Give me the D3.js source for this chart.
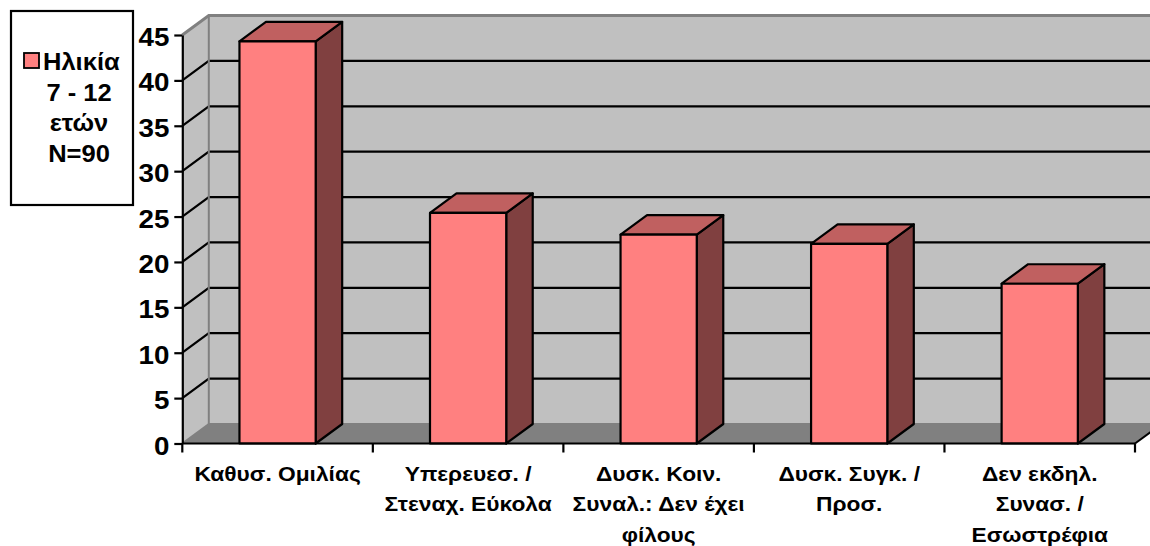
<!DOCTYPE html>
<html>
<head>
<meta charset="utf-8">
<script src="https://cdn.jsdelivr.net/npm/d3@7"></script>
<style>
  html, body { margin: 0; padding: 0; background: #fff; }
  svg { display: block; }
  text { font-family: "Liberation Sans", Arial, sans-serif; font-weight: bold; fill: #000; }
</style>
</head>
<body>
<script>
// Category labels (line breaks as they wrap under the axis)
const categories = [
  "Καθυσ. Ομιλίας",
  "Υπερευεσ. /\nΣτεναχ. Εύκολα",
  "Δυσκ. Κοιν.\nΣυναλ.: Δεν έχει\nφίλους",
  "Δυσκ. Συγκ. /\nΠροσ.",
  "Δεν εκδηλ.\nΣυνασ. /\nΕσωστρέφια"
];
// Percentages for the age group 7 - 12
const values = [44.3, 25.4, 23.0, 22.0, 17.6];
const yTicks = [0, 5, 10, 15, 20, 25, 30, 35, 40, 45];
const legendLines = ["Ηλικία", "7 - 12", "ετών", "N=90"];

const W = 1150, H = 546;
const DX = 26.5, DY = -19.5;   // 3-D depth offset
const SX = 1.11;               // horizontal text stretch

const svg = d3.select("body").append("svg").attr("width", W).attr("height", H);

const x = d3.scaleBand().domain(categories).range([182.3, 1135]).paddingInner(0).paddingOuter(0);
const y = d3.scaleLinear().domain([0, 45]).range([443.5, 35]);

const x0 = x.range()[0], x1 = x.range()[1];
const yTop = y(45), yBot = y(0);

const colFront = "#ff8080", colTop = "#c06060", colSide = "#804040";

// walls and floor
svg.append("rect").attr("x", x0 + DX).attr("y", yTop + DY)
  .attr("width", x1 - x0 + 10).attr("height", yBot - yTop).attr("fill", "#c0c0c0");
svg.append("path").attr("fill", "#c0c0c0")
  .attr("d", `M${x0},${yBot}L${x0},${yTop}L${x0 + DX},${yTop + DY}L${x0 + DX},${yBot + DY}Z`);
svg.append("path").attr("fill", "#808080")
  .attr("d", `M${x0},${yBot}L${x1},${yBot}L${x1 + DX},${yBot + DY}L${x0 + DX},${yBot + DY}Z`);

// gridlines: diagonal on side wall, horizontal on back wall
const grid = svg.append("g");
yTicks.filter(v => v > 0 && v < 45).forEach(v => {
  grid.append("path").attr("fill", "none").attr("stroke", "#000").attr("stroke-width", 2.2)
    .attr("d", `M${x0},${y(v)}L${x0 + DX},${y(v) + DY}L${x1 + DX + 10},${y(v) + DY}`);
});

// wall edges
svg.append("path").attr("fill", "none").attr("stroke", "#808080").attr("stroke-width", 3)
  .attr("d", `M${x0},${yTop}L${x0 + DX},${yTop + DY}L${x1 + DX + 10},${yTop + DY}`);
svg.append("path").attr("fill", "none").attr("stroke", "#808080").attr("stroke-width", 2)
  .attr("d", `M${x0 + DX},${yTop + DY}L${x0 + DX},${yBot + DY}L${x1 + DX + 10},${yBot + DY}`);
svg.append("path").attr("fill", "none").attr("stroke", "#808080").attr("stroke-width", 2)
  .attr("d", `M${x0},${yBot}L${x0 + DX},${yBot + DY}`);
svg.append("path").attr("fill", "none").attr("stroke", "#000").attr("stroke-width", 2)
  .attr("d", `M${x1},${yBot}L${x1 + DX},${yBot + DY}`);

// bars
const bw = x.bandwidth() * 0.4;
const bars = svg.append("g").selectAll("g").data(categories).join("g");
bars.each(function (c, i) {
  const g = d3.select(this);
  const bx = x(c) + (x.bandwidth() - bw) / 2;
  const bt = y(values[i]);
  const face = (d, fill) => g.append("path").attr("d", d).attr("fill", fill)
    .attr("stroke", "#000").attr("stroke-width", 2.2).attr("stroke-linejoin", "round");
  face(`M${bx + bw},${bt}L${bx + bw + DX},${bt + DY}L${bx + bw + DX},${yBot + DY}L${bx + bw},${yBot}Z`, colSide);
  face(`M${bx},${bt}L${bx + DX},${bt + DY}L${bx + bw + DX},${bt + DY}L${bx + bw},${bt}Z`, colTop);
  face(`M${bx},${bt}L${bx + bw},${bt}L${bx + bw},${yBot}L${bx},${yBot}Z`, colFront);
});

// value axis
const yAxis = svg.append("g").attr("transform", `translate(${x0},0)`)
  .call(d3.axisLeft(y).tickValues(yTicks).tickSize(8).tickSizeOuter(0).tickFormat(d3.format("d")));
yAxis.select(".domain").attr("stroke", "#000").attr("stroke-width", 2.2);
yAxis.selectAll(".tick line").attr("stroke", "#000").attr("stroke-width", 2.2);
yAxis.selectAll(".tick text")
  .attr("x", -13 / SX).attr("dy", null).attr("y", 10.5)
  .attr("transform", `scale(${SX},1)`)
  .style("font-size", "25px").style("font-family", "'Liberation Sans', Arial, sans-serif")
  .style("font-weight", "bold").attr("fill", "#000");

// category axis
const xTickPos = categories.map(c => x(c)).concat([x1]);
const xAxis = svg.append("g");
xAxis.append("line").attr("x1", x0).attr("x2", x1).attr("y1", yBot).attr("y2", yBot)
  .attr("stroke", "#000").attr("stroke-width", 2.2);
xAxis.selectAll("line.tk").data(xTickPos).join("line").attr("class", "tk")
  .attr("x1", d => d).attr("x2", d => d).attr("y1", yBot).attr("y2", yBot + 9)
  .attr("stroke", "#000").attr("stroke-width", 2.2);

const labels = svg.append("g").selectAll("g").data(categories).join("g")
  .attr("transform", c => `translate(${x(c) + x.bandwidth() / 2},0)`);
labels.each(function (c) {
  const g = d3.select(this);
  c.split("\n").forEach((line, j) => {
    g.append("text").attr("transform", `translate(0,${480.5 + j * 30.5}) scale(${SX},1)`)
      .attr("text-anchor", "middle").style("font-size", "20.5px").text(line);
  });
});

// legend
const lg = svg.append("g");
lg.append("rect").attr("x", 11).attr("y", 11).attr("width", 122).attr("height", 194)
  .attr("fill", "#fff").attr("stroke", "#000").attr("stroke-width", 2.2);
lg.append("rect").attr("x", 24).attr("y", 53).attr("width", 15).attr("height", 15)
  .attr("fill", colFront).attr("stroke", "#000").attr("stroke-width", 1.8);
legendLines.forEach((line, j) => {
  const first = j === 0;
  lg.append("text")
    .attr("transform", `translate(${first ? 43 : 79},${70 + j * 30.5}) scale(${SX},1)`)
    .attr("text-anchor", first ? "start" : "middle")
    .style("font-size", "23px").text(line);
});
</script>
</body>
</html>
